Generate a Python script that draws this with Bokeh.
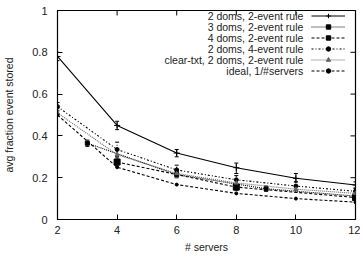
from bokeh.plotting import figure
from bokeh.models import (Legend, LegendItem, Label, Whisker, TeeHead,
                          ColumnDataSource, FixedTicker, Range1d)
from bokeh.embed import file_html
from bokeh.resources import INLINE

# ---------------- data ----------------
x_ticks = [2, 4, 6, 8, 10, 12]
y_ticks = [0, 0.2, 0.4, 0.6, 0.8, 1.0]
y_tick_labels = ["0", "0.2", "0.4", "0.6", "0.8", "1"]

names = ["2 doms, 2-event rule", "3 doms, 2-event rule", "4 doms, 2-event rule",
         "2 doms, 4-event rule", "clear-txt, 2 doms, 2-event rule", "ideal, 1/#servers"]

s1_x = [2, 4, 6, 8, 10, 12]
s1_y = [0.78, 0.45, 0.318, 0.248, 0.197, 0.165]
s1_lo = [0.76, 0.43, 0.30, 0.22, 0.18, 0.15]
s1_hi = [0.80, 0.47, 0.335, 0.27, 0.22, 0.18]

s2_x = [3, 6, 9, 12]
s2_y = [0.365, 0.215, 0.147, 0.112]
s2_lo = [0.35, 0.20, 0.135, 0.10]
s2_hi = [0.38, 0.23, 0.16, 0.125]

s3_x = [4, 8, 12]
s3_y = [0.275, 0.155, 0.105]
s3_lo = [0.26, 0.14, 0.095]
s3_hi = [0.30, 0.17, 0.12]

s4_x = [2, 4, 6, 8, 10, 12]
s4_y = [0.54, 0.335, 0.237, 0.19, 0.16, 0.135]
s4_lo = [0.52, 0.30, 0.21, 0.17, 0.14, 0.12]
s4_hi = [0.56, 0.37, 0.26, 0.21, 0.18, 0.15]

s5_x = [2, 4, 6, 8, 10, 12]
s5_y = [0.51, 0.31, 0.22, 0.175, 0.145, 0.125]
s5_lo = [0.50, 0.29, 0.20, 0.16, 0.13, 0.11]
s5_hi = [0.53, 0.33, 0.24, 0.19, 0.16, 0.14]

s6_x = [2, 4, 6, 8, 10, 12]
s6_y = [0.5, 0.25, 0.167, 0.125, 0.1, 0.083]

# ---------------- figure ----------------
FONT = "Liberation Sans"
X0, X1, Y0, Y1 = 2, 12, 0, 1
p = figure(width=360, height=255, output_backend="svg", toolbar_location=None,
           x_range=Range1d(X0, X1), y_range=Range1d(Y0, Y1),
           min_border_left=0, min_border_right=5, min_border_top=10, min_border_bottom=35)
p.grid.visible = False
p.outline_line_color = "black"
p.outline_line_width = 1.2
p.background_fill_color = "white"
p.border_fill_color = "white"

p.xaxis.ticker = FixedTicker(ticks=x_ticks)
p.yaxis.ticker = FixedTicker(ticks=y_ticks)
p.yaxis.major_label_overrides = {t: l for t, l in zip(y_ticks, y_tick_labels)}
for ax in (p.xaxis[0], p.yaxis[0]):
    ax.major_tick_in = 5
    ax.major_tick_out = 0
    ax.minor_tick_in = 0
    ax.minor_tick_out = 0
    ax.axis_line_color = "black"
    ax.major_tick_line_color = "black"
    ax.major_label_text_font = FONT
    ax.major_label_text_font_size = "11px"
    ax.major_label_text_color = "#222222"
    ax.axis_label_text_font = FONT
    ax.axis_label_text_font_size = "10.5px"
    ax.axis_label_text_font_style = "normal"
    ax.axis_label_text_color = "#222222"
p.xaxis.axis_label = "# servers"
p.yaxis.axis_label = "avg fraction event stored"
p.xaxis.major_label_standoff = 6
p.yaxis.major_label_standoff = 10
p.xaxis.axis_label_standoff = 4
p.yaxis.axis_label_standoff = 14

# mirrored inward ticks on top and right edges (gnuplot style)
tick_len_y = 5 / 210 * (Y1 - Y0)
tick_len_x = 5 / 297 * (X1 - X0)
p.segment(x0=x_ticks, y0=[Y1] * len(x_ticks), x1=x_ticks, y1=[Y1 - tick_len_y] * len(x_ticks),
          line_color="black", line_width=1)
p.segment(x0=[X1] * len(y_ticks), y0=y_ticks, x1=[X1 - tick_len_x] * len(y_ticks), y1=y_ticks,
          line_color="black", line_width=1)

series = [
    (s1_x, s1_y, s1_lo, s1_hi, dict(dash="solid", color="black", marker="cross", size=6)),
    (s2_x, s2_y, s2_lo, s2_hi, dict(dash="1 1", color="black", marker="square", size=4)),
    (s3_x, s3_y, s3_lo, s3_hi, dict(dash="3 2", color="black", marker="square", size=6)),
    (s4_x, s4_y, s4_lo, s4_hi, dict(dash="2 2 1 2", color="black", marker="circle", size=4)),
    (s5_x, s5_y, s5_lo, s5_hi, dict(dash="1 1", color="#666666", marker="triangle", size=4)),
    (s6_x, s6_y, None, None, dict(dash="3 2", color="black", marker="circle", size=3)),
]

items = []
for (xs, ys, lo, hi, st) in series:
    data = dict(x=xs, y=ys)
    if lo is not None:
        data["lo"] = lo
        data["hi"] = hi
    src = ColumnDataSource(data)
    r_line = p.line("x", "y", source=src, line_color=st["color"], line_width=1.1,
                    line_dash=st["dash"])
    r_mark = p.scatter("x", "y", source=src, marker=st["marker"], size=st["size"],
                       line_color=st["color"], fill_color=st["color"])
    if lo is not None:
        w = Whisker(base="x", lower="lo", upper="hi", source=src,
                    line_color=st["color"], line_width=1, line_dash=st["dash"],
                    upper_head=TeeHead(size=4, line_color=st["color"]),
                    lower_head=TeeHead(size=4, line_color=st["color"]))
        p.add_layout(w)
    items.append(LegendItem(label=" ", renderers=[r_line, r_mark]))

# key samples (texts are drawn to their left, gnuplot style)
legend = Legend(items=items, location="top_right", glyph_width=34, glyph_height=11,
                label_height=11, label_width=0, label_standoff=10, spacing=0,
                padding=0, margin=0, border_line_alpha=0, background_fill_alpha=0,
                label_text_font_size="6px")
p.add_layout(legend)

row_top = 0.974
row_step = 0.0524
for i, name in enumerate(names):
    p.add_layout(Label(x=10.25, y=row_top - i * row_step, text=name,
                       text_align="right", text_baseline="middle",
                       text_font=FONT, text_font_size="10.5px", text_color="#222222"))

open("out.html", "w").write(file_html(p, INLINE))
